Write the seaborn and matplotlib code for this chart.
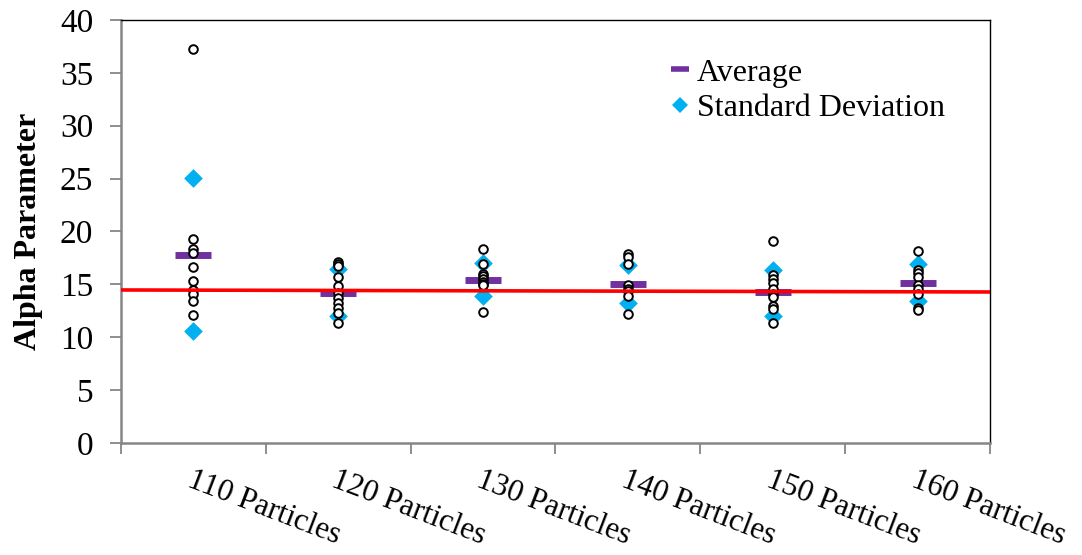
import numpy as np
import pandas as pd
import matplotlib
matplotlib.use("Agg")
import matplotlib.pyplot as plt
from matplotlib.lines import Line2D
from matplotlib.ticker import FixedLocator
import seaborn as sns

# Alpha parameter estimates for each particle count
categories = ["110 Particles", "120 Particles", "130 Particles",
              "140 Particles", "150 Particles", "160 Particles"]

alpha_110 = [37.3, 19.3, 18.3, 18.0, 16.6, 15.3, 14.5, 14.1, 13.4, 12.1]
alpha_120 = [17.1, 16.9, 16.7, 15.7, 14.8, 14.2, 13.7, 13.2, 12.8, 12.3, 11.3]
alpha_130 = [18.3, 16.9, 16.0, 15.8, 15.5, 15.2, 15.0, 14.9, 12.4]
alpha_140 = [17.9, 17.6, 16.9, 14.9, 14.6, 14.4, 13.9, 12.2]
alpha_150 = [19.1, 15.9, 15.5, 15.1, 14.6, 14.1, 13.8, 13.0, 12.7, 11.3]
alpha_160 = [18.2, 16.4, 16.1, 15.7, 14.9, 14.6, 14.1, 12.8, 12.6]

averages = [17.8, 14.2, 15.4, 15.0, 14.3, 15.1]
sd_upper = [25.1, 16.5, 17.0, 16.8, 16.4, 16.9]
sd_lower = [10.6, 12.0, 13.9, 13.2, 12.0, 13.4]

# Linear trend across the full range of the axis
trend_start = 14.47
trend_end = 14.28

FONT = "Liberation Serif"
PURPLE = "#7030A0"
CYAN = "#00B0F0"
AXIS_GRAY = "#868686"

sns.set_theme(style="white")
plt.rcParams["font.family"] = [FONT, "DejaVu Serif"]
for key in ["text.color", "axes.labelcolor", "xtick.labelcolor", "ytick.labelcolor"]:
    plt.rcParams[key] = "black"

points = pd.DataFrame({
    "category": sum([[c] * len(v) for c, v in zip(
        categories,
        [alpha_110, alpha_120, alpha_130, alpha_140, alpha_150, alpha_160])], []),
    "alpha": alpha_110 + alpha_120 + alpha_130 + alpha_140 + alpha_150 + alpha_160,
})
summary = pd.DataFrame({"category": categories, "avg": averages,
                        "hi": sd_upper, "lo": sd_lower})

fig = plt.figure(figsize=(10.82, 5.55), dpi=100)
ax = fig.add_axes([0.1118, 0.2018, 0.8032, 0.7622])

# Standard deviation diamonds (drawn first so the circles sit on top)
for col in ["hi", "lo"]:
    sns.stripplot(data=summary, x="category", y=col, order=categories,
                  jitter=False, marker="D", size=9.5, color=CYAN,
                  linewidth=0, ax=ax, zorder=2)

# Average bars
sns.pointplot(data=summary, x="category", y="avg", order=categories,
              markers="_", linestyles="none", color=PURPLE,
              markersize=26, markeredgewidth=5, errorbar=None, ax=ax)

# Individual estimates
sns.stripplot(data=points, x="category", y="alpha", order=categories,
              jitter=False, marker="o", size=6.2, color="white",
              edgecolor="black", linewidth=1.4, ax=ax, zorder=4)

ax.set_xlim(-0.5, len(categories) - 0.5)
ax.plot([-0.5, len(categories) - 0.5], [trend_start, trend_end],
        color="#FF0000", linewidth=2.6, zorder=5, solid_capstyle="butt")

ax.set_ylim(0, 40)
ax.set_yticks(np.arange(0, 41, 5))
ax.set_ylabel("Alpha Parameter", fontsize=23, fontweight="bold",
              family=FONT, labelpad=12, color="black")
ax.set_xlabel("")

ax.set_xticks(range(len(categories)))
ax.set_xticklabels(categories, rotation=-21, rotation_mode="anchor",
                   ha="left", va="top", fontsize=22.5, family=FONT, color="black")
ax.xaxis.set_minor_locator(FixedLocator(np.arange(-0.5, len(categories), 1.0)))
ax.tick_params(axis="x", which="major", length=0, pad=16)
ax.tick_params(axis="x", which="minor", length=8, width=1.3,
               color=AXIS_GRAY, direction="out", bottom=True)
ax.tick_params(axis="y", length=8, width=1.3, color=AXIS_GRAY,
               direction="out", left=True, labelsize=24, pad=12,
               labelcolor="black")
for lab in ax.get_yticklabels():
    lab.set_family(FONT)

for side in ["left", "bottom"]:
    ax.spines[side].set_color(AXIS_GRAY)
    ax.spines[side].set_linewidth(1.8)
for side in ["top", "right"]:
    ax.spines[side].set_color("black")
    ax.spines[side].set_linewidth(1.0)
    ax.spines[side].set_visible(True)

handles = [
    Line2D([], [], linestyle="none", marker="_", markersize=13,
           markeredgewidth=4, color=PURPLE),
    Line2D([], [], linestyle="none", marker="D", markersize=8,
           color=CYAN, markeredgewidth=0),
]
leg = ax.legend(handles, ["Average", "Standard Deviation"], loc="upper left",
                bbox_to_anchor=(0.617, 0.94), frameon=False,
                prop={"family": FONT, "size": 23},
                handlelength=0.6, handletextpad=0.25, labelspacing=0.2,
                borderaxespad=0)
for t in leg.get_texts():
    t.set_color("black")

fig.savefig("out.png", dpi=100)
